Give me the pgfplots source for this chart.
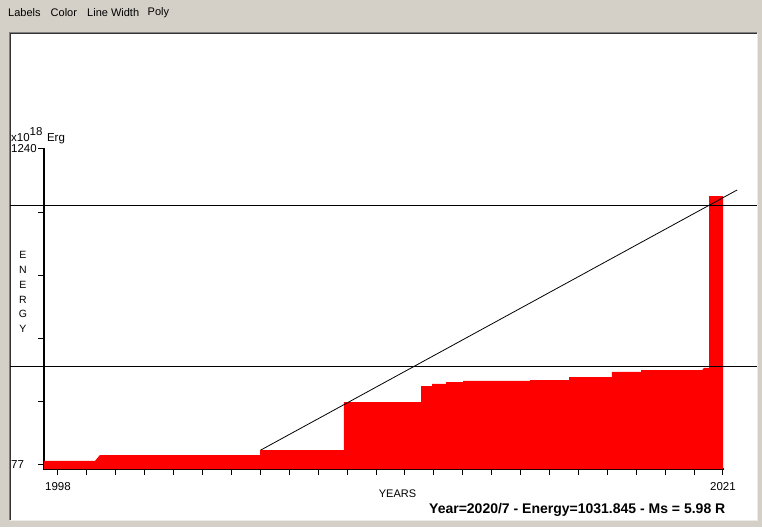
\documentclass[border=0pt]{standalone}
\usepackage{pgfplots}
\pgfplotsset{compat=1.18}
\usepackage{fontspec}
\setmainfont{Liberation Sans}
\definecolor{winbg}{RGB}{212,208,200}
\definecolor{wingray}{RGB}{128,128,128}
\definecolor{winlight}{RGB}{236,234,230}
\begin{document}
\begin{tikzpicture}[x=1pt,y=1pt]
% window background and white panel
\fill[winbg] (0,0) rectangle (762,527);
\fill[white] (10,7) rectangle (757,494);
\draw[wingray, line width=1pt] (9.5,7) -- (9.5,494.5) -- (757,494.5);
\draw[black!80, line width=1pt] (10.5,7.5) -- (10.5,493.5) -- (756.5,493.5);
\draw[winlight, line width=1pt] (10,6.5) -- (757.5,6.5) -- (757.5,494);
% menu
\begin{scope}[every node/.style={anchor=west, inner sep=0pt, font=\fontsize{11}{13}\selectfont}]
\node at (8,514.5) {Labels};
\node at (50.5,514.5) {Color};
\node at (87,514.5) {Line Width};
\node at (147.5,514.5) {Poly};
\end{scope}
\begin{axis}[
  at={(44pt,58pt)}, anchor=south west,
  scale only axis, width=679pt, height=320pt,
  xmin=1997.516, xmax=2021, ymin=60.4, ymax=1240,
  axis x line=bottom, axis y line=left,
  axis line style={-, line width=2.5pt, line cap=rect},
  tick align=outside, major tick length=6pt,
  tick style={black, line width=1pt},
  xtick={1998,...,2021},
  xticklabels={1998,,,,,,,,,,,,,,,,,,,,,,,2021},
  ytick={77,309.6,542.2,774.8,1007.4,1240},
  yticklabels={,,,,,},
  xticklabel style={font=\fontsize{11.5}{13}\selectfont, yshift=-4pt},
  minor tick num=0,
  clip=false,
]
% cumulative energy (steps)
\addplot[fill=red, draw=none] coordinates {
  (1997.52,60.4) (1997.52,90) (1999.28,90) (1999.45,112)
  (2004.99,112) (2004.99,130) (2007.89,130) (2007.89,307)
  (2010.56,307) (2010.56,366) (2010.94,366) (2010.94,374)
  (2011.42,374) (2011.42,381) (2012.01,381) (2012.01,385)
  (2014.33,385) (2014.33,388) (2015.68,388) (2015.68,399)
  (2017.16,399) (2017.16,418) (2018.17,418) (2018.17,425)
  (2020.28,425) (2020.34,433) (2020.52,433) (2020.52,1066)
  (2021.0,1066) (2021.0,60.4)
};
% reference lines
\addplot[black, line width=1pt] coordinates {(1996.34,1031.845) (2022.18,1031.845)};
\addplot[black, line width=1pt] coordinates {(1996.34,440) (2022.18,440)};
% trend line
\addplot[black, line width=0.8pt] coordinates {(2005.01,130) (2021.49,1089)};
\end{axis}
% y tick labels and unit
\begin{scope}[every node/.style={inner sep=0pt, font=\fontsize{11.5}{13}\selectfont}]
\node[anchor=west] at (11,378) {1240};
\node[anchor=west] at (11,62.5) {77};
\node[anchor=west] at (11,391) {x10\raisebox{6pt}{18}\hspace{4.5pt}Erg};
\node[align=center, font=\fontsize{10.5}{14.8}\selectfont] at (23,235) {E\\N\\E\\R\\G\\Y};
\node at (397.5,33) {\fontsize{11}{12}\selectfont YEARS};
\node[anchor=west, font=\fontsize{14}{16}\bfseries] at (429,17) {Year=2020/7 - Energy=1031.845 - Ms = 5.98 R};
\end{scope}
\end{tikzpicture}
\end{document}
